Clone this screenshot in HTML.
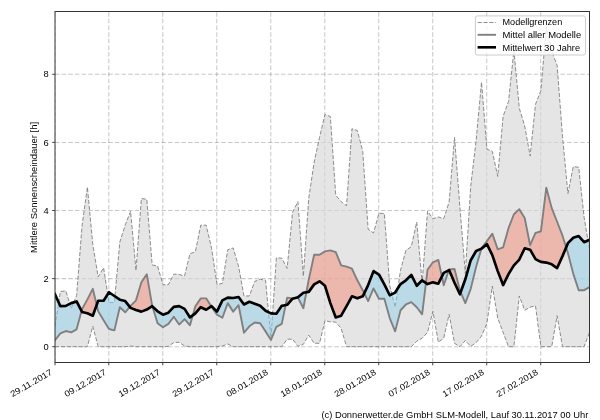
<!DOCTYPE html>
<html><head><meta charset="utf-8"><title>Mittlere Sonnenscheindauer</title>
<style>html,body{margin:0;padding:0;background:#fff;}svg{display:block;}text{font-family:"Liberation Sans",sans-serif;fill:#000;}</style></head><body>
<svg width="600" height="420" viewBox="0 0 600 420">
<rect x="0" y="0" width="600" height="420" fill="#fff"/>
<g opacity="0.999">
<defs><clipPath id="ax"><rect x="55" y="11.5" width="534.5" height="351"/></clipPath></defs>
<g clip-path="url(#ax)">
<line x1="55" y1="362.5" x2="55" y2="11.5" stroke="#808080" stroke-opacity="0.43" stroke-width="1.05" stroke-dasharray="4.5 2.15"/>
<line x1="108.79" y1="362.5" x2="108.79" y2="11.5" stroke="#808080" stroke-opacity="0.43" stroke-width="1.05" stroke-dasharray="4.5 2.15"/>
<line x1="162.78" y1="362.5" x2="162.78" y2="11.5" stroke="#808080" stroke-opacity="0.43" stroke-width="1.05" stroke-dasharray="4.5 2.15"/>
<line x1="216.77" y1="362.5" x2="216.77" y2="11.5" stroke="#808080" stroke-opacity="0.43" stroke-width="1.05" stroke-dasharray="4.5 2.15"/>
<line x1="270.76" y1="362.5" x2="270.76" y2="11.5" stroke="#808080" stroke-opacity="0.43" stroke-width="1.05" stroke-dasharray="4.5 2.15"/>
<line x1="324.75" y1="362.5" x2="324.75" y2="11.5" stroke="#808080" stroke-opacity="0.43" stroke-width="1.05" stroke-dasharray="4.5 2.15"/>
<line x1="378.74" y1="362.5" x2="378.74" y2="11.5" stroke="#808080" stroke-opacity="0.43" stroke-width="1.05" stroke-dasharray="4.5 2.15"/>
<line x1="432.73" y1="362.5" x2="432.73" y2="11.5" stroke="#808080" stroke-opacity="0.43" stroke-width="1.05" stroke-dasharray="4.5 2.15"/>
<line x1="486.72" y1="362.5" x2="486.72" y2="11.5" stroke="#808080" stroke-opacity="0.43" stroke-width="1.05" stroke-dasharray="4.5 2.15"/>
<line x1="540.71" y1="362.5" x2="540.71" y2="11.5" stroke="#808080" stroke-opacity="0.43" stroke-width="1.05" stroke-dasharray="4.5 2.15"/>
<line x1="55" y1="346.7" x2="589.5" y2="346.7" stroke="#808080" stroke-opacity="0.43" stroke-width="1.05" stroke-dasharray="4.5 2.15"/>
<line x1="55" y1="278.6" x2="589.5" y2="278.6" stroke="#808080" stroke-opacity="0.43" stroke-width="1.05" stroke-dasharray="4.5 2.15"/>
<line x1="55" y1="210.5" x2="589.5" y2="210.5" stroke="#808080" stroke-opacity="0.43" stroke-width="1.05" stroke-dasharray="4.5 2.15"/>
<line x1="55" y1="142.4" x2="589.5" y2="142.4" stroke="#808080" stroke-opacity="0.43" stroke-width="1.05" stroke-dasharray="4.5 2.15"/>
<line x1="55" y1="74.3" x2="589.5" y2="74.3" stroke="#808080" stroke-opacity="0.43" stroke-width="1.05" stroke-dasharray="4.5 2.15"/>
<polygon points="55,326.27 60.4,291.54 65.8,290.86 71.2,308.22 76.6,295.62 81.99,226.16 87.39,187.01 92.79,244.55 98.19,276.9 103.59,267.7 108.99,302.44 114.39,302.44 119.79,242.17 125.19,225.14 130.59,211.18 135.98,270.43 141.38,198.58 146.78,199.26 152.18,264.98 157.58,266 162.98,284.73 168.38,284.73 173.78,274.17 179.18,274.51 184.58,275.88 189.97,253.74 195.37,251.7 200.77,225.14 206.17,225.14 211.57,248.3 216.97,284.39 222.37,283.37 227.77,249.66 233.17,247.95 238.57,266.34 243.96,295.97 249.36,295.97 254.76,281.32 260.16,279.28 265.56,280.3 270.96,338.19 276.36,257.83 281.76,258.17 287.16,268.38 292.56,212.2 297.95,201.65 303.35,276.22 308.75,198.24 314.15,162.15 319.55,137.29 324.95,114.48 330.35,116.52 335.75,195.18 341.15,201.65 346.55,205.73 351.94,128.78 357.34,130.48 362.74,151.25 368.14,229.23 373.54,232.97 378.94,213.22 384.34,213.56 389.74,285.41 395.14,307.2 400.54,270.09 405.93,250.34 411.33,246.59 416.73,222.08 422.13,283.03 427.53,211.18 432.93,218.67 438.33,216.97 443.73,218.67 449.13,201.99 454.53,137.29 459.92,207.44 465.32,273.49 470.72,186.32 476.12,140.36 481.52,82.13 486.92,149.21 492.32,151.25 497.72,176.45 503.12,116.18 508.52,101.54 513.91,50.47 519.31,108.35 524.71,126.06 530.11,156.02 535.51,104.26 540.91,90.64 546.31,26.63 551.71,51.15 557.11,65.45 562.51,136.27 567.9,193.47 573.3,166.58 578.7,167.26 584.1,217.31 589.5,249.66 589.5,332.4 584.1,346.7 578.7,346.7 573.3,346.7 567.9,346.7 562.51,346.7 557.11,315.71 551.71,346.7 546.31,346.7 540.91,346.7 535.51,305.84 530.11,307.2 524.71,310.27 519.31,295.97 513.91,346.7 508.52,346.7 503.12,332.4 497.72,318.1 492.32,286.09 486.92,323.21 481.52,336.14 476.12,342.61 470.72,346.36 465.32,340.57 459.92,346.7 454.53,343.3 449.13,314.35 443.73,338.19 438.33,342.27 432.93,311.29 427.53,332.4 422.13,338.19 416.73,341.25 411.33,346.7 405.93,346.7 400.54,346.7 395.14,346.7 389.74,346.7 384.34,346.7 378.94,346.7 373.54,346.7 368.14,346.7 362.74,346.7 357.34,346.7 351.94,346.7 346.55,346.7 341.15,328.31 335.75,322.18 330.35,321.84 324.95,320.82 319.55,343.3 314.15,343.3 308.75,335.12 303.35,344.32 297.95,346.36 292.56,339.21 287.16,339.21 281.76,346.7 276.36,346.7 270.96,346.7 265.56,346.7 260.16,346.7 254.76,346.7 249.36,346.7 243.96,346.7 238.57,346.7 233.17,346.7 227.77,343.98 222.37,346.02 216.97,346.7 211.57,346.7 206.17,346.7 200.77,346.7 195.37,346.7 189.97,346.7 184.58,346.02 179.18,342.27 173.78,342.61 168.38,346.36 162.98,346.7 157.58,346.7 152.18,346.7 146.78,346.7 141.38,346.7 135.98,346.7 130.59,346.02 125.19,346.7 119.79,346.7 114.39,346.7 108.99,346.7 103.59,346.7 98.19,346.7 92.79,326.27 87.39,346.7 81.99,346.7 76.6,346.7 71.2,346.7 65.8,346.7 60.4,346.7 55,346.7" fill="#d7d7d7" fill-opacity="0.655" stroke="none"/>
<polyline points="55,326.27 60.4,291.54 65.8,290.86 71.2,308.22 76.6,295.62 81.99,226.16 87.39,187.01 92.79,244.55 98.19,276.9 103.59,267.7 108.99,302.44 114.39,302.44 119.79,242.17 125.19,225.14 130.59,211.18 135.98,270.43 141.38,198.58 146.78,199.26 152.18,264.98 157.58,266 162.98,284.73 168.38,284.73 173.78,274.17 179.18,274.51 184.58,275.88 189.97,253.74 195.37,251.7 200.77,225.14 206.17,225.14 211.57,248.3 216.97,284.39 222.37,283.37 227.77,249.66 233.17,247.95 238.57,266.34 243.96,295.97 249.36,295.97 254.76,281.32 260.16,279.28 265.56,280.3 270.96,338.19 276.36,257.83 281.76,258.17 287.16,268.38 292.56,212.2 297.95,201.65 303.35,276.22 308.75,198.24 314.15,162.15 319.55,137.29 324.95,114.48 330.35,116.52 335.75,195.18 341.15,201.65 346.55,205.73 351.94,128.78 357.34,130.48 362.74,151.25 368.14,229.23 373.54,232.97 378.94,213.22 384.34,213.56 389.74,285.41 395.14,307.2 400.54,270.09 405.93,250.34 411.33,246.59 416.73,222.08 422.13,283.03 427.53,211.18 432.93,218.67 438.33,216.97 443.73,218.67 449.13,201.99 454.53,137.29 459.92,207.44 465.32,273.49 470.72,186.32 476.12,140.36 481.52,82.13 486.92,149.21 492.32,151.25 497.72,176.45 503.12,116.18 508.52,101.54 513.91,50.47 519.31,108.35 524.71,126.06 530.11,156.02 535.51,104.26 540.91,90.64 546.31,26.63 551.71,51.15 557.11,65.45 562.51,136.27 567.9,193.47 573.3,166.58 578.7,167.26 584.1,217.31 589.5,249.66" fill="none" stroke="#808080" stroke-width="0.9" stroke-dasharray="4.1 1.8" stroke-linejoin="round"/>
<polyline points="55,346.7 60.4,346.7 65.8,346.7 71.2,346.7 76.6,346.7 81.99,346.7 87.39,346.7 92.79,326.27 98.19,346.7 103.59,346.7 108.99,346.7 114.39,346.7 119.79,346.7 125.19,346.7 130.59,346.02 135.98,346.7 141.38,346.7 146.78,346.7 152.18,346.7 157.58,346.7 162.98,346.7 168.38,346.36 173.78,342.61 179.18,342.27 184.58,346.02 189.97,346.7 195.37,346.7 200.77,346.7 206.17,346.7 211.57,346.7 216.97,346.7 222.37,346.02 227.77,343.98 233.17,346.7 238.57,346.7 243.96,346.7 249.36,346.7 254.76,346.7 260.16,346.7 265.56,346.7 270.96,346.7 276.36,346.7 281.76,346.7 287.16,339.21 292.56,339.21 297.95,346.36 303.35,344.32 308.75,335.12 314.15,343.3 319.55,343.3 324.95,320.82 330.35,321.84 335.75,322.18 341.15,328.31 346.55,346.7 351.94,346.7 357.34,346.7 362.74,346.7 368.14,346.7 373.54,346.7 378.94,346.7 384.34,346.7 389.74,346.7 395.14,346.7 400.54,346.7 405.93,346.7 411.33,346.7 416.73,341.25 422.13,338.19 427.53,332.4 432.93,311.29 438.33,342.27 443.73,338.19 449.13,314.35 454.53,343.3 459.92,346.7 465.32,340.57 470.72,346.36 476.12,342.61 481.52,336.14 486.92,323.21 492.32,286.09 497.72,318.1 503.12,332.4 508.52,346.7 513.91,346.7 519.31,295.97 524.71,310.27 530.11,307.2 535.51,305.84 540.91,346.7 546.31,346.7 551.71,346.7 557.11,315.71 562.51,346.7 567.9,346.7 573.3,346.7 578.7,346.7 584.1,346.7 589.5,332.4" fill="none" stroke="#808080" stroke-width="0.9" stroke-dasharray="4.1 1.8" stroke-linejoin="round"/>
<polygon points="81.52,311.03 81.99,309.25 87.39,299.37 92.79,288.81 96.67,304.95 96.67,304.95 92.79,315.71 87.39,313.33 81.99,311.97 81.52,311.03" fill="#f48c78" fill-opacity="0.5" stroke="none"/>
<polygon points="129.76,306.84 130.59,305.84 135.98,300.39 141.38,282.35 146.78,274.17 152.18,305.84 152.33,306.32 152.33,306.32 152.18,306.18 146.78,309.59 141.38,311.63 135.98,309.93 130.59,307.88 129.76,306.84" fill="#f48c78" fill-opacity="0.5" stroke="none"/>
<polygon points="192.8,315.28 195.37,306.18 200.77,298.35 206.17,298.35 211.27,306.38 211.27,306.38 206.17,309.76 200.77,307.2 195.37,313.33 192.8,315.28" fill="#f48c78" fill-opacity="0.5" stroke="none"/>
<polygon points="285.62,305.11 287.16,297.67 292.56,298.35 295.26,298.01 295.26,298.01 292.56,298.69 287.16,304.82 285.62,305.11" fill="#f48c78" fill-opacity="0.5" stroke="none"/>
<polygon points="306.37,292.26 308.75,279.62 314.15,254.76 319.55,254.76 324.95,251.36 330.35,250.34 335.75,252.04 341.15,265.32 346.55,266.68 351.94,268.73 357.34,280.3 362.74,290.18 364.24,293.19 364.24,293.19 362.74,296.31 357.34,298.35 351.94,296.31 346.55,306.18 341.15,315.71 335.75,317.42 330.35,303.12 324.95,285.75 319.55,281.32 314.15,284.39 308.75,291.88 306.37,292.26" fill="#f48c78" fill-opacity="0.5" stroke="none"/>
<polygon points="425.93,282.94 427.53,269.75 432.93,262.26 438.33,259.87 441.88,276.55 441.88,276.55 438.33,283.71 432.93,282.35 427.53,284.05 425.93,282.94" fill="#f48c78" fill-opacity="0.5" stroke="none"/>
<polygon points="448.85,270.23 449.13,269.41 454.53,269.07 459.92,290.52 460.66,292.23 460.66,292.23 459.92,294.26 454.53,282.69 449.13,270.09 448.85,270.23" fill="#f48c78" fill-opacity="0.5" stroke="none"/>
<polygon points="481.41,248.69 481.52,248.3 486.92,241.14 492.32,233.65 497.72,249.32 503.12,247.27 508.52,228.21 513.91,214.25 519.31,209.14 524.71,217.99 530.11,245.23 535.51,232.97 540.91,231.27 546.31,187.69 551.71,208.12 557.11,221.74 562.51,235.7 566.14,247.4 566.14,247.4 562.51,256.13 557.11,268.04 551.71,264.3 546.31,262.6 540.91,261.92 535.51,259.19 530.11,249.66 524.71,248.3 519.31,259.53 513.91,265.32 508.52,274.17 503.12,285.07 497.72,271.11 492.32,255.11 486.92,244.21 481.52,248.64 481.41,248.69" fill="#f48c78" fill-opacity="0.5" stroke="none"/>
<polygon points="55,340.23 60.4,333.42 65.8,331.04 71.2,332.4 76.6,329.33 81.52,311.03 81.52,311.03 76.6,301.41 71.2,303.12 65.8,305.84 60.4,306.18 55,294.26" fill="#92d0ec" fill-opacity="0.5" stroke="none"/>
<polygon points="96.67,304.95 98.19,311.29 103.59,320.14 108.99,328.99 114.39,330.36 119.79,307.2 125.19,312.31 129.76,306.84 129.76,306.84 125.19,301.07 119.79,299.71 114.39,295.97 108.99,292.22 103.59,300.73 98.19,300.73 96.67,304.95" fill="#92d0ec" fill-opacity="0.5" stroke="none"/>
<polygon points="152.33,306.32 157.58,323.21 162.98,327.29 168.38,323.89 173.78,316.74 179.18,324.57 184.58,319.12 189.97,325.25 192.8,315.28 192.8,315.28 189.97,317.42 184.58,308.9 179.18,306.18 173.78,306.86 168.38,312.65 162.98,314.69 157.58,311.29 152.33,306.32" fill="#92d0ec" fill-opacity="0.5" stroke="none"/>
<polygon points="211.27,306.38 211.57,306.86 216.97,314.69 222.37,317.76 227.77,303.12 233.17,311.63 238.57,305.16 243.96,332.74 249.36,326.27 254.76,322.52 260.16,323.21 265.56,331.38 270.96,339.89 276.36,326.95 281.76,323.89 285.62,305.11 285.62,305.11 281.76,305.84 276.36,313.77 270.96,313.33 265.56,310.78 260.16,305.84 254.76,303.8 249.36,301.75 243.96,304.48 238.57,296.99 233.17,298.01 227.77,297.67 222.37,300.39 216.97,311.63 211.57,306.18 211.27,306.38" fill="#92d0ec" fill-opacity="0.5" stroke="none"/>
<polygon points="295.26,298.01 297.95,297.67 303.35,308.22 306.37,292.26 306.37,292.26 303.35,292.73 297.95,297.33 295.26,298.01" fill="#92d0ec" fill-opacity="0.5" stroke="none"/>
<polygon points="364.24,293.19 368.14,301.07 373.54,288.47 378.94,298.69 384.34,298.69 389.74,318.1 395.14,331.38 400.54,310.27 405.93,304.48 411.33,302.09 416.73,307.2 422.13,314.35 425.93,282.94 425.93,282.94 422.13,280.3 416.73,285.75 411.33,274.85 405.93,280.3 400.54,284.05 395.14,292.56 389.74,295.28 384.34,284.39 378.94,274.51 373.54,271.11 368.14,285.07 364.24,293.19" fill="#92d0ec" fill-opacity="0.5" stroke="none"/>
<polygon points="441.88,276.55 443.73,285.24 448.85,270.23 448.85,270.23 443.73,272.81 441.88,276.55" fill="#92d0ec" fill-opacity="0.5" stroke="none"/>
<polygon points="460.66,292.23 465.32,303.12 470.72,288.81 476.12,266.68 481.41,248.69 481.41,248.69 476.12,251.02 470.72,260.21 465.32,279.28 460.66,292.23" fill="#92d0ec" fill-opacity="0.5" stroke="none"/>
<polygon points="566.14,247.4 567.9,253.06 573.3,273.83 578.7,290.18 584.1,290.18 589.5,287.11 589.5,239.78 584.1,242.17 578.7,236.04 573.3,237.74 567.9,243.19 566.14,247.4" fill="#92d0ec" fill-opacity="0.5" stroke="none"/>
<polyline points="55,340.23 60.4,333.42 65.8,331.04 71.2,332.4 76.6,329.33 81.99,309.25 87.39,299.37 92.79,288.81 98.19,311.29 103.59,320.14 108.99,328.99 114.39,330.36 119.79,307.2 125.19,312.31 130.59,305.84 135.98,300.39 141.38,282.35 146.78,274.17 152.18,305.84 157.58,323.21 162.98,327.29 168.38,323.89 173.78,316.74 179.18,324.57 184.58,319.12 189.97,325.25 195.37,306.18 200.77,298.35 206.17,298.35 211.57,306.86 216.97,314.69 222.37,317.76 227.77,303.12 233.17,311.63 238.57,305.16 243.96,332.74 249.36,326.27 254.76,322.52 260.16,323.21 265.56,331.38 270.96,339.89 276.36,326.95 281.76,323.89 287.16,297.67 292.56,298.35 297.95,297.67 303.35,308.22 308.75,279.62 314.15,254.76 319.55,254.76 324.95,251.36 330.35,250.34 335.75,252.04 341.15,265.32 346.55,266.68 351.94,268.73 357.34,280.3 362.74,290.18 368.14,301.07 373.54,288.47 378.94,298.69 384.34,298.69 389.74,318.1 395.14,331.38 400.54,310.27 405.93,304.48 411.33,302.09 416.73,307.2 422.13,314.35 427.53,269.75 432.93,262.26 438.33,259.87 443.73,285.24 449.13,269.41 454.53,269.07 459.92,290.52 465.32,303.12 470.72,288.81 476.12,266.68 481.52,248.3 486.92,241.14 492.32,233.65 497.72,249.32 503.12,247.27 508.52,228.21 513.91,214.25 519.31,209.14 524.71,217.99 530.11,245.23 535.51,232.97 540.91,231.27 546.31,187.69 551.71,208.12 557.11,221.74 562.51,235.7 567.9,253.06 573.3,273.83 578.7,290.18 584.1,290.18 589.5,287.11" fill="none" stroke="#808080" stroke-width="1.9" stroke-linejoin="round" stroke-linecap="square"/>
<polyline points="55,294.26 60.4,306.18 65.8,305.84 71.2,303.12 76.6,301.41 81.99,311.97 87.39,313.33 92.79,315.71 98.19,300.73 103.59,300.73 108.99,292.22 114.39,295.97 119.79,299.71 125.19,301.07 130.59,307.88 135.98,309.93 141.38,311.63 146.78,309.59 152.18,306.18 157.58,311.29 162.98,314.69 168.38,312.65 173.78,306.86 179.18,306.18 184.58,308.9 189.97,317.42 195.37,313.33 200.77,307.2 206.17,309.76 211.57,306.18 216.97,311.63 222.37,300.39 227.77,297.67 233.17,298.01 238.57,296.99 243.96,304.48 249.36,301.75 254.76,303.8 260.16,305.84 265.56,310.78 270.96,313.33 276.36,313.77 281.76,305.84 287.16,304.82 292.56,298.69 297.95,297.33 303.35,292.73 308.75,291.88 314.15,284.39 319.55,281.32 324.95,285.75 330.35,303.12 335.75,317.42 341.15,315.71 346.55,306.18 351.94,296.31 357.34,298.35 362.74,296.31 368.14,285.07 373.54,271.11 378.94,274.51 384.34,284.39 389.74,295.28 395.14,292.56 400.54,284.05 405.93,280.3 411.33,274.85 416.73,285.75 422.13,280.3 427.53,284.05 432.93,282.35 438.33,283.71 443.73,272.81 449.13,270.09 454.53,282.69 459.92,294.26 465.32,279.28 470.72,260.21 476.12,251.02 481.52,248.64 486.92,244.21 492.32,255.11 497.72,271.11 503.12,285.07 508.52,274.17 513.91,265.32 519.31,259.53 524.71,248.3 530.11,249.66 535.51,259.19 540.91,261.92 546.31,262.6 551.71,264.3 557.11,268.04 562.51,256.13 567.9,243.19 573.3,237.74 578.7,236.04 584.1,242.17 589.5,239.78" fill="none" stroke="#000" stroke-width="2.65" stroke-linejoin="round" stroke-linecap="square"/>
</g>
<rect x="55" y="11.5" width="534.5" height="351" fill="none" stroke="#333" stroke-width="1.0"/>
<line x1="55" y1="362.5" x2="55" y2="365.3" stroke="#444" stroke-width="1.0"/>
<line x1="108.79" y1="362.5" x2="108.79" y2="365.3" stroke="#444" stroke-width="1.0"/>
<line x1="162.78" y1="362.5" x2="162.78" y2="365.3" stroke="#444" stroke-width="1.0"/>
<line x1="216.77" y1="362.5" x2="216.77" y2="365.3" stroke="#444" stroke-width="1.0"/>
<line x1="270.76" y1="362.5" x2="270.76" y2="365.3" stroke="#444" stroke-width="1.0"/>
<line x1="324.75" y1="362.5" x2="324.75" y2="365.3" stroke="#444" stroke-width="1.0"/>
<line x1="378.74" y1="362.5" x2="378.74" y2="365.3" stroke="#444" stroke-width="1.0"/>
<line x1="432.73" y1="362.5" x2="432.73" y2="365.3" stroke="#444" stroke-width="1.0"/>
<line x1="486.72" y1="362.5" x2="486.72" y2="365.3" stroke="#444" stroke-width="1.0"/>
<line x1="540.71" y1="362.5" x2="540.71" y2="365.3" stroke="#444" stroke-width="1.0"/>
<line x1="52.2" y1="346.7" x2="55" y2="346.7" stroke="#444" stroke-width="1.0"/>
<line x1="52.2" y1="278.6" x2="55" y2="278.6" stroke="#444" stroke-width="1.0"/>
<line x1="52.2" y1="210.5" x2="55" y2="210.5" stroke="#444" stroke-width="1.0"/>
<line x1="52.2" y1="142.4" x2="55" y2="142.4" stroke="#444" stroke-width="1.0"/>
<line x1="52.2" y1="74.3" x2="55" y2="74.3" stroke="#444" stroke-width="1.0"/>
<text x="48.7" y="349.8" font-size="8.6" text-anchor="end" textLength="5.2" lengthAdjust="spacingAndGlyphs">0</text>
<text x="48.7" y="281.7" font-size="8.6" text-anchor="end" textLength="5.2" lengthAdjust="spacingAndGlyphs">2</text>
<text x="48.7" y="213.6" font-size="8.6" text-anchor="end" textLength="5.2" lengthAdjust="spacingAndGlyphs">4</text>
<text x="48.7" y="145.5" font-size="8.6" text-anchor="end" textLength="5.2" lengthAdjust="spacingAndGlyphs">6</text>
<text x="48.7" y="77.4" font-size="8.6" text-anchor="end" textLength="5.2" lengthAdjust="spacingAndGlyphs">8</text>
<text transform="translate(52.8,374) rotate(-30)" font-size="8.6" text-anchor="end" textLength="46.5" lengthAdjust="spacingAndGlyphs">29.11.2017</text>
<text transform="translate(106.79,374) rotate(-30)" font-size="8.6" text-anchor="end" textLength="46.5" lengthAdjust="spacingAndGlyphs">09.12.2017</text>
<text transform="translate(160.78,374) rotate(-30)" font-size="8.6" text-anchor="end" textLength="46.5" lengthAdjust="spacingAndGlyphs">19.12.2017</text>
<text transform="translate(214.77,374) rotate(-30)" font-size="8.6" text-anchor="end" textLength="46.5" lengthAdjust="spacingAndGlyphs">29.12.2017</text>
<text transform="translate(268.76,374) rotate(-30)" font-size="8.6" text-anchor="end" textLength="46.5" lengthAdjust="spacingAndGlyphs">08.01.2018</text>
<text transform="translate(322.75,374) rotate(-30)" font-size="8.6" text-anchor="end" textLength="46.5" lengthAdjust="spacingAndGlyphs">18.01.2018</text>
<text transform="translate(376.74,374) rotate(-30)" font-size="8.6" text-anchor="end" textLength="46.5" lengthAdjust="spacingAndGlyphs">28.01.2018</text>
<text transform="translate(430.73,374) rotate(-30)" font-size="8.6" text-anchor="end" textLength="46.5" lengthAdjust="spacingAndGlyphs">07.02.2018</text>
<text transform="translate(484.72,374) rotate(-30)" font-size="8.6" text-anchor="end" textLength="46.5" lengthAdjust="spacingAndGlyphs">17.02.2018</text>
<text transform="translate(538.71,374) rotate(-30)" font-size="8.6" text-anchor="end" textLength="46.5" lengthAdjust="spacingAndGlyphs">27.02.2018</text>
<text transform="translate(37.1,187.4) rotate(-90)" font-size="8.6" text-anchor="middle" textLength="131" lengthAdjust="spacingAndGlyphs">Mittlere Sonnenscheindauer [h]</text>
<text x="588.4" y="418.3" font-size="8.6" text-anchor="end" textLength="267" lengthAdjust="spacingAndGlyphs">(c) Donnerwetter.de GmbH SLM-Modell, Lauf 30.11.2017 00 Uhr</text>
<rect x="475.4" y="15.9" width="110.1" height="39.1" rx="2" ry="2" fill="#fff" fill-opacity="0.8" stroke="#cccccc" stroke-width="1"/>
<line x1="477.6" y1="22.5" x2="496" y2="22.5" stroke="#808080" stroke-width="0.9" stroke-dasharray="4.1 1.8"/>
<line x1="477.6" y1="34.8" x2="496" y2="34.8" stroke="#808080" stroke-width="1.9"/>
<line x1="477.6" y1="47.3" x2="496" y2="47.3" stroke="#000" stroke-width="2.65"/>
<text x="502.5" y="25.2" font-size="8.6" textLength="59.7" lengthAdjust="spacingAndGlyphs">Modellgrenzen</text>
<text x="502.5" y="37.8" font-size="8.6" textLength="78.7" lengthAdjust="spacingAndGlyphs">Mittel aller Modelle</text>
<text x="502.5" y="50.6" font-size="8.6" textLength="77.5" lengthAdjust="spacingAndGlyphs">Mittelwert 30 Jahre</text>
</g>
</svg></body></html>
